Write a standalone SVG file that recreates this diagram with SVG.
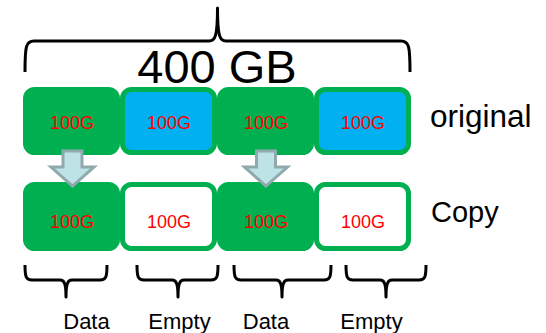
<svg xmlns="http://www.w3.org/2000/svg" width="546" height="333" viewBox="0 0 546 333">
<style>
.box{stroke:#00B050;stroke-width:5}
.g{fill:#00B050}
.b{fill:#00B0F0}
.w{fill:#FFFFFF}
.v{font-family:"Liberation Sans",Arial,sans-serif;font-size:18px;fill:#FF0000;text-anchor:middle}
.lbl{font-family:"Liberation Sans",Arial,sans-serif;fill:#000000}
.brace{fill:none;stroke:#000000;stroke-width:3;stroke-linejoin:round}
.arrow{fill:#BDE3E7;stroke:#8FA9AD;stroke-width:3}
</style>
<rect width="546" height="333" fill="#FFFFFF"/>
<g id="title">
<text class="lbl" x="217" y="83" font-size="47" text-anchor="middle">400 GB</text>
</g>
<g id="orig1"><rect class="box g" x="25.5" y="89.5" width="92" height="63" rx="9"/><text class="v" x="72" y="129">100G</text></g>
<g id="orig2"><rect class="box b" x="122.5" y="89.5" width="92" height="63" rx="9"/><text class="v" x="169" y="129">100G</text></g>
<g id="orig3"><rect class="box g" x="219.5" y="89.5" width="92" height="63" rx="9"/><text class="v" x="266" y="129">100G</text></g>
<g id="orig4"><rect class="box b" x="316.5" y="89.5" width="92" height="63" rx="9"/><text class="v" x="363" y="129">100G</text></g>
<g id="copy1"><rect class="box g" x="25.5" y="184.5" width="92" height="64" rx="9"/><text class="v" x="72" y="228">100G</text></g>
<g id="copy2"><rect class="box w" x="122.5" y="184.5" width="92" height="64" rx="9"/><text class="v" x="169" y="228">100G</text></g>
<g id="copy3"><rect class="box g" x="219.5" y="184.5" width="92" height="64" rx="9"/><text class="v" x="266" y="228">100G</text></g>
<g id="copy4"><rect class="box w" x="316.5" y="184.5" width="92" height="64" rx="9"/><text class="v" x="363" y="228">100G</text></g>
<g id="label-original"><text class="lbl" x="430" y="127" font-size="31.5">original</text></g>
<g id="label-copy"><text class="lbl" x="431" y="222" font-size="29">Copy</text></g>
<g id="connectors">
<polygon class="arrow" points="63,151 82,151 82,167 94,167 72.5,186 51,167 63,167"/>
<polygon class="arrow" points="256.5,151 275.5,151 275.5,167 287.5,167 266,186 244.5,167 256.5,167"/>
<path class="brace" d="M25,72 C25,46 26,41 34,41 L209,41 C215,41 217.5,37 217.5,8 C217.5,37 220,41 226,41 L401,41 C409,41 410,46 410,72"/>
<path class="brace" d="M25,265 C25,277 26,280 32,280 L60,280 C64,280 66,283 66,297 C66,283 68,280 72,280 L100,280 C106,280 107,277 107,265"/>
<path class="brace" d="M137,265 C137,277 138,280 144,280 L172,280 C176,280 178,283 178,297 C178,283 180,280 184,280 L211,280 C217,280 218,277 218,265"/>
<path class="brace" d="M234,265 C234,277 235,280 241,280 L276,280 C280,280 282,283 282,297 C282,283 284,280 288,280 L324,280 C330,280 331,277 331,265"/>
<path class="brace" d="M346,265 C346,277 347,280 353,280 L380,280 C384,280 386,283 386,297 C386,283 388,280 392,280 L419,280 C425,280 426,277 426,265"/>
</g>
<g id="bottom-labels">
<text class="lbl" x="86.5" y="329" font-size="22" text-anchor="middle">Data</text>
<text class="lbl" x="179.5" y="329" font-size="22" text-anchor="middle">Empty</text>
<text class="lbl" x="266" y="329" font-size="22" text-anchor="middle">Data</text>
<text class="lbl" x="371.5" y="329" font-size="22" text-anchor="middle">Empty</text>
</g>
</svg>
